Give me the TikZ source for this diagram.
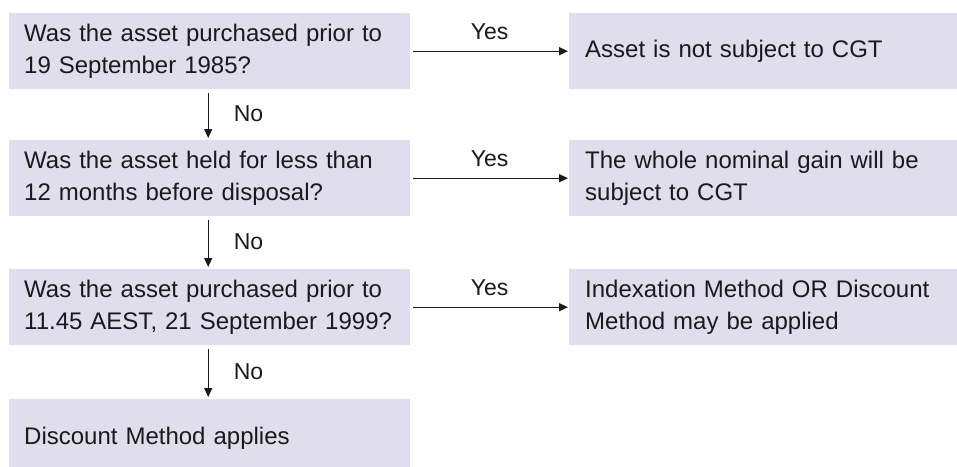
\documentclass[tikz,border=0pt]{standalone}
\usepackage{fontspec}
\setmainfont{Liberation Sans}
\usetikzlibrary{arrows.meta}
\definecolor{boxfill}{HTML}{E0DDED}
\definecolor{ink}{HTML}{1A1A1A}
\begin{document}
\begin{tikzpicture}[x=1pt,y=-1pt,
  every node/.style={text=ink},
  lbox/.style={fill=boxfill, anchor=north west, minimum height=76pt, text width=371pt,
    align=left, inner xsep=15pt, inner ysep=0pt, font=\fontsize{24}{32}\selectfont},
  rbox/.style={fill=boxfill, anchor=north west, minimum height=76pt, text width=356pt,
    align=left, inner xsep=16pt, inner ysep=0pt, font=\fontsize{24}{32}\selectfont},
  conn/.style={draw=ink, line width=1.3pt, -{Triangle[length=9pt,width=8pt]}},
  lab/.style={font=\fontsize{23}{28}\selectfont, inner sep=0pt}
]
\useasboundingbox (0,0) rectangle (957,466);

\node[lbox] (q1) at (9,13) {Was the asset purchased prior to\\19 September 1985?};
\node[lbox] (q2) at (9,140) {Was the asset held for less than\\12 months before disposal?};
\node[lbox] (q3) at (9,269) {Was the asset purchased prior to\\11.45 AEST, 21 September 1999?};
\node[lbox, minimum height=78pt] (d) at (9,399) {Discount Method applies};

\node[rbox] (a1) at (569,13) {Asset is not subject to CGT};
\node[rbox] (a2) at (569,140) {The whole nominal gain will be\\subject to CGT};
\node[rbox] (a3) at (569,269) {Indexation Method OR Discount\\Method may be applied};

\foreach \s/\t in {q1/a1,q2/a2,q3/a3}{
  \draw[conn, shorten <=3pt, shorten >=1pt] (\s.east) -- (\t.west)
    node[lab, midway, above=11pt] {Yes};
}

\foreach \s/\t in {q1/q2,q2/q3,q3/d}{
  \draw[conn, shorten <=4pt, shorten >=2pt] ([xshift=-1.5pt]\s.south) -- ([xshift=-1.5pt]\t.north)
    node[lab, midway, anchor=west, xshift=25pt, yshift=1pt] {No};
}
\end{tikzpicture}
\end{document}
